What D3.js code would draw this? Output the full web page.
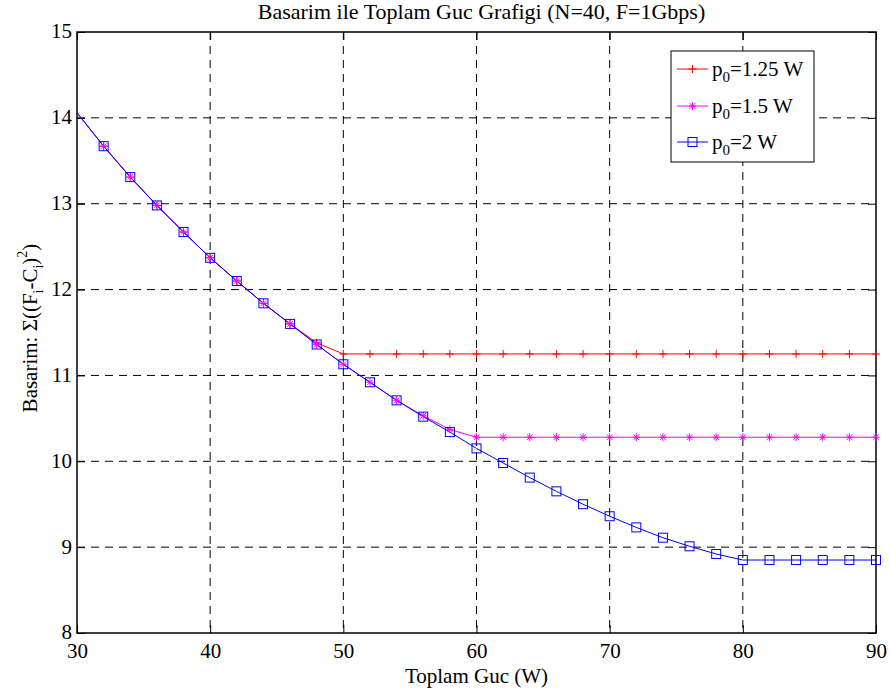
<!DOCTYPE html>
<html><head><meta charset="utf-8">
<script src="https://cdn.jsdelivr.net/npm/d3@7"></script>
<style>body{margin:0;background:#fff;} svg text{font-family:"Liberation Serif","Times New Roman",serif;}</style>
</head><body>
<svg id="c" width="890" height="692"></svg>
<script>
const xs = [30,32,34,36,38,40,42,44,46,48,50,52,54,56,58,60,62,64,66,68,70,72,74,76,78,80,82,84,86,88,90];
const blue = [14.06,13.67,13.31,12.98,12.67,12.37,12.10,11.84,11.60,11.36,11.13,10.92,10.71,10.52,10.34,10.15,9.98,9.81,9.65,9.50,9.36,9.23,9.11,9.01,8.92,8.85,8.85,8.85,8.85,8.85,8.85];
const magenta = [14.06,13.67,13.31,12.98,12.67,12.37,12.10,11.84,11.60,11.36,11.13,10.92,10.71,10.53,10.37,10.28,10.28,10.28,10.28,10.28,10.28,10.28,10.28,10.28,10.28,10.28,10.28,10.28,10.28,10.28,10.28];
const red = [14.06,13.67,13.31,12.98,12.67,12.37,12.10,11.84,11.60,11.38,11.25,11.25,11.25,11.25,11.25,11.25,11.25,11.25,11.25,11.25,11.25,11.25,11.25,11.25,11.25,11.25,11.25,11.25,11.25,11.25,11.25];
const xTicks = [30,40,50,60,70,80,90];
const yTicks = [8,9,10,11,12,13,14,15];
const series = [
  {name:"1.25 W", values:red, color:"#ff0000", marker:"plus"},
  {name:"1.5 W", values:magenta, color:"#ff00ff", marker:"star"},
  {name:"2 W", values:blue, color:"#0000ff", marker:"square"}
];

const FONT = '"Liberation Serif","Times New Roman",serif';
const svg = d3.select("#c");
const L=77, R=876, T=32, B=633;
const x = d3.scaleLinear().domain([30,90]).range([L,R]);
const y = d3.scaleLinear().domain([8,15]).range([B,T]);

// grid
const g = svg.append("g");
g.selectAll(".gx").data(xTicks.slice(1,-1)).join("line")
  .attr("x1",d=>x(d)).attr("x2",d=>x(d)).attr("y1",T).attr("y2",B)
  .attr("stroke","#000").attr("stroke-width",1).attr("stroke-dasharray","8,6");
g.selectAll(".gy").data(yTicks.slice(1,-1)).join("line")
  .attr("y1",d=>y(d)).attr("y2",d=>y(d)).attr("x1",L).attr("x2",R)
  .attr("stroke","#000").attr("stroke-width",1).attr("stroke-dasharray","8,6");

// axes (inward ticks)
const axB = d3.axisBottom(x).tickValues(xTicks).tickSize(-8).tickPadding(10).tickFormat(d3.format("d"));
const axL = d3.axisLeft(y).tickValues(yTicks).tickSize(-8).tickPadding(5).tickFormat(d3.format("d"));
const axT = d3.axisTop(x).tickValues(xTicks).tickSize(-8).tickFormat("");
const axR = d3.axisRight(y).tickValues(yTicks).tickSize(-8).tickFormat("");
function style(sel){ sel.select(".domain").remove(); sel.selectAll("line").attr("stroke","#000");
  sel.attr("font-family",FONT).attr("font-size",21);
  sel.selectAll("text").attr("font-family",FONT).attr("font-size",21).attr("fill","#000"); }
svg.append("g").attr("transform",`translate(0,${B})`).call(axB).call(style);
svg.append("g").attr("transform",`translate(${L},0)`).call(axL).call(style)
  .selectAll("text").attr("dy","0.28em");
svg.append("g").attr("transform",`translate(0,${T})`).call(axT).call(style);
svg.append("g").attr("transform",`translate(${R},0)`).call(axR).call(style);
svg.append("rect").attr("x",L).attr("y",T).attr("width",R-L).attr("height",B-T)
  .attr("fill","none").attr("stroke","#000").attr("stroke-width",1.5);

// markers
function drawMarker(sel, type, color, cx, cy){
  if(type==="plus"){
    sel.append("path").attr("d",`M${cx-4},${cy}H${cx+4}M${cx},${cy-4}V${cy+4}`).attr("stroke",color).attr("stroke-width",1).attr("fill","none");
  } else if(type==="star"){
    sel.append("path").attr("d",`M${cx-3.5},${cy}H${cx+3.5}M${cx},${cy-4}V${cy+4}M${cx-2.8},${cy-2.8}L${cx+2.8},${cy+2.8}M${cx-2.8},${cy+2.8}L${cx+2.8},${cy-2.8}`).attr("stroke",color).attr("stroke-width",1).attr("fill","none");
  } else {
    sel.append("rect").attr("x",cx-4.5).attr("y",cy-4.5).attr("width",9).attr("height",9).attr("stroke",color).attr("stroke-width",1).attr("fill","none");
  }
}

svg.append("defs").append("clipPath").attr("id","pc").append("rect")
  .attr("x",L).attr("y",T).attr("width",R-L).attr("height",B-T);
const plot = svg.append("g").attr("clip-path","url(#pc)");
const line = d3.line().x((d,i)=>x(xs[i])).y(d=>y(d));
series.forEach(s=>{
  plot.append("path").datum(s.values).attr("d",line).attr("fill","none").attr("stroke",s.color).attr("stroke-width",1);
});
series.forEach(s=>{
  const mg = svg.append("g");
  s.values.forEach((v,i)=>{ if(i>0) drawMarker(mg, s.marker, s.color, x(xs[i]), y(v)); });
});

// legend
const lg = svg.append("g");
lg.append("rect").attr("x",671).attr("y",51).attr("width",143).attr("height",111).attr("fill","#fff").attr("stroke","#000").attr("stroke-width",1);
const ly = [69,106,142];
series.forEach((s,i)=>{
  lg.append("line").attr("x1",677).attr("x2",708).attr("y1",ly[i]).attr("y2",ly[i]).attr("stroke",s.color).attr("stroke-width",1);
  drawMarker(lg, s.marker, s.color, 692.5, ly[i]);
  const t = lg.append("text").attr("x",712).attr("y",ly[i]+7).attr("font-size",21).attr("font-family",FONT).attr("fill","#000");
  t.append("tspan").text("p");
  t.append("tspan").attr("font-size",15).attr("dy",6).text("0");
  t.append("tspan").attr("dy",-6).text("=" + s.name);
});

// title and labels
svg.append("text").attr("x",(L+R)/2 + 5).attr("y",19).attr("text-anchor","middle").attr("font-size",22).attr("font-family",FONT).text("Basarim ile Toplam Guc Grafigi (N=40, F=1Gbps)");
svg.append("text").attr("x",(L+R)/2).attr("y",683).attr("text-anchor","middle").attr("font-size",21).attr("font-family",FONT).text("Toplam Guc (W)");
const yl = svg.append("text").attr("transform","translate(37,328) rotate(-90)").attr("text-anchor","middle").attr("font-size",21).attr("font-family",FONT);
yl.append("tspan").text("Basarim: Σ((F");
yl.append("tspan").attr("font-size",14).attr("dy",6).text("i");
yl.append("tspan").attr("dy",-6).text("-C");
yl.append("tspan").attr("font-size",14).attr("dy",6).text("i");
yl.append("tspan").attr("dy",-6).text(")");
yl.append("tspan").attr("font-size",14).attr("dy",-10).text("2");
yl.append("tspan").attr("dy",10).text(")");
</script>
</body></html>
